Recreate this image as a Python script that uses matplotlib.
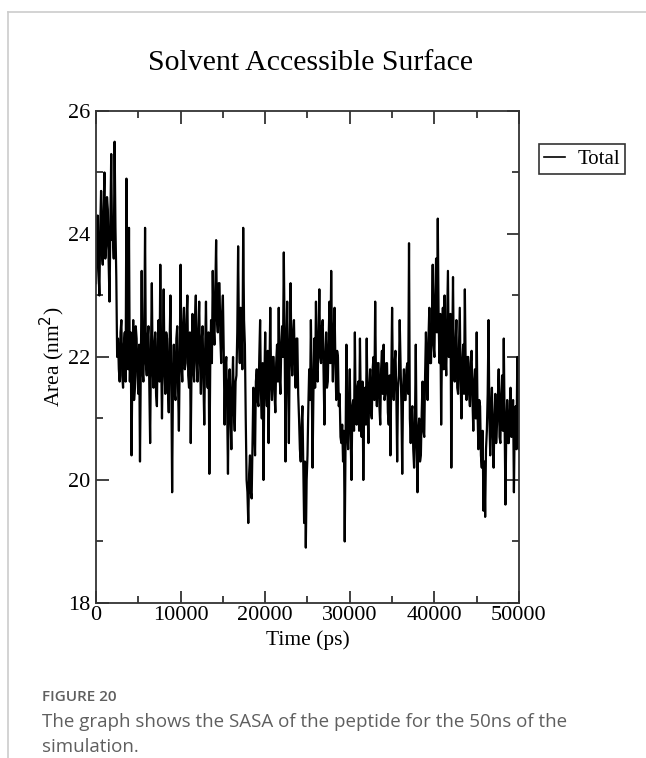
import numpy as np
import matplotlib.pyplot as plt
from matplotlib.lines import Line2D

# SASA (nm^2), one value every 100 ps, 0..50000 ps
area = [
    23.2, 24.0, 24.3, 23.4, 23.0, 24.1, 24.7, 23.7, 23.5, 24.4, 25.0, 23.6, 23.8, 24.6, 24.4, 23.5, 22.9, 24.2, 25.3, 23.9,
    24.0, 23.6, 25.5, 24.1, 23.3, 22.0, 22.3, 21.8, 21.6, 22.4, 22.6, 21.7, 21.5, 22.2, 22.4, 21.6, 24.9, 22.3, 21.8, 24.1,
    21.6, 22.4, 20.4, 21.8, 22.6, 21.3, 21.5, 22.5, 22.3, 21.7, 21.4, 22.2, 20.3, 21.9, 23.4, 21.8, 21.6, 22.3, 24.1, 21.9,
    21.7, 22.3, 22.5, 21.6, 20.6, 22.1, 23.2, 21.8, 21.5, 22.2, 22.4, 21.4, 21.2, 22.3, 22.6, 21.6, 23.5, 22.0, 21.0, 22.1,
    23.1, 21.8, 21.4, 22.4, 22.3, 21.5, 21.1, 22.2, 23.0, 21.7, 19.8, 21.6, 22.2, 21.4, 21.3, 22.3, 22.5, 21.5, 20.8, 22.0,
    23.5, 21.9, 21.6, 22.5, 22.8, 21.8, 21.9, 22.6, 23.0, 21.7, 21.5, 22.4, 20.6, 21.9, 22.7, 21.8, 21.6, 22.6, 23.0, 21.9,
    21.6, 22.4, 22.9, 21.9, 21.4, 22.3, 22.5, 21.6, 20.9, 22.1, 22.9, 21.8, 21.5, 22.4, 20.1, 21.8, 22.6, 21.9, 23.4, 22.5,
    22.2, 23.1, 23.9, 22.6, 22.4, 23.2, 23.2, 22.3, 21.9, 22.7, 23.0, 22.1, 20.9, 21.8, 22.0, 21.2, 20.1, 21.6, 21.8, 21.0,
    20.5, 21.5, 22.0, 21.1, 20.8, 21.6, 21.7, 22.4, 23.8, 22.3, 21.9, 22.8, 22.6, 21.8, 24.1, 22.6, 22.2, 21.0, 20.0, 19.8,
    19.3, 20.1, 20.4, 19.8, 19.7, 20.6, 21.5, 20.9, 20.4, 21.6, 21.8, 21.3, 21.2, 22.0, 22.6, 21.4, 21.0, 21.9, 20.0, 21.6,
    22.4, 21.5, 21.2, 22.1, 20.6, 21.7, 22.8, 21.6, 21.3, 22.0, 22.0, 21.4, 21.1, 21.9, 22.2, 21.6, 22.8, 21.7, 21.4, 22.2,
    22.5, 22.0, 23.7, 22.3, 20.3, 22.0, 22.9, 21.8, 20.6, 22.1, 23.2, 22.0, 21.7, 22.4, 22.6, 21.8, 21.5, 22.3, 22.3, 21.4,
    21.0, 20.5, 20.3, 20.9, 21.2, 20.2, 19.3, 20.3, 18.9, 20.0, 20.4, 21.2, 21.8, 21.3, 22.6, 21.6, 20.2, 21.4, 22.3, 21.5,
    22.9, 21.8, 21.6, 22.4, 23.1, 22.0, 21.9, 22.5, 22.6, 21.7, 20.9, 22.0, 22.4, 21.5, 21.6, 22.3, 22.9, 21.9, 23.4, 22.2,
    21.6, 22.4, 22.8, 21.9, 21.3, 22.1, 22.0, 21.2, 21.4, 20.7, 20.6, 20.9, 20.3, 20.8, 19.0, 20.6, 22.2, 20.8, 20.5, 21.3,
    21.8, 20.7, 20.0, 21.2, 21.3, 20.8, 22.4, 21.0, 20.9, 21.5, 21.6, 20.8, 22.3, 21.2, 20.7, 21.6, 20.0, 21.3, 21.5, 20.9,
    22.3, 21.2, 20.6, 21.5, 21.8, 21.1, 21.0, 21.8, 22.0, 21.3, 22.9, 21.6, 21.2, 21.9, 21.9, 21.2, 20.9, 21.8, 22.1, 21.4,
    22.2, 21.3, 21.4, 21.9, 21.9, 21.1, 20.9, 21.7, 20.4, 21.6, 22.8, 21.5, 21.3, 21.9, 22.1, 21.4, 20.3, 21.5, 21.7, 22.6,
    21.9, 21.2, 20.1, 21.5, 21.8, 21.3, 21.3, 21.8, 21.9, 21.4, 23.85, 21.0, 20.6, 21.1, 21.2, 20.5, 20.2, 20.9, 22.2, 20.6,
    19.8, 20.8, 21.0, 20.3, 20.4, 21.1, 21.6, 20.8, 20.7, 21.7, 22.4, 21.8, 21.3, 22.3, 22.8, 21.9, 21.9, 22.6, 23.5, 22.2,
    22.0, 23.0, 23.6, 22.4, 24.25, 22.6, 21.9, 22.7, 20.9, 22.2, 22.8, 21.8, 23.0, 22.1, 21.7, 22.6, 23.4, 22.0, 22.1, 22.7,
    20.2, 22.0, 23.3, 21.8, 21.6, 22.2, 22.6, 21.5, 21.4, 22.1, 22.8, 21.6, 21.0, 21.9, 22.2, 21.4, 23.1, 21.8, 21.3, 22.0,
    22.0, 21.4, 21.2, 21.9, 22.1, 21.3, 20.8, 21.6, 21.8, 21.0, 22.4, 21.1, 20.5, 21.3, 21.2, 20.4, 20.2, 20.8, 19.5, 20.3,
    19.4, 20.5, 20.8, 21.4, 22.6, 21.0, 20.4, 21.2, 21.5, 20.7, 20.2, 21.0, 21.4, 20.6, 20.9, 21.3, 21.8, 20.7, 20.6, 21.4,
    21.7, 20.8, 22.3, 21.0, 19.6, 20.9, 21.3, 20.6, 20.6, 21.2, 21.5, 20.7, 20.8, 21.3, 19.8, 21.0, 21.2, 20.5, 22.0, 20.7,
    20.5,
]
time = np.linspace(0, 50000, len(area))

x_ticks = [0, 10000, 20000, 30000, 40000, 50000]
y_ticks = [18, 20, 22, 24, 26]

serif = ['Liberation Serif', 'DejaVu Serif']
sans = ['Open Sans', 'DejaVu Sans']

fig = plt.figure(figsize=(6.46, 7.58), dpi=100)
ax = fig.add_axes([0.1486, 0.2045, 0.6548, 0.6491])

ax.plot(time, area, color='black', lw=1.6, label='Total')

ax.set_xlim(0, 50000)
ax.set_ylim(18, 26)
ax.set_xticks(x_ticks)
ax.set_yticks(y_ticks)
ax.set_xticks(np.arange(5000, 50000, 10000), minor=True)
ax.set_yticks([19, 21, 23, 25], minor=True)
ax.tick_params(which='both', direction='in', top=True, right=True, width=1.3, color='#333333')
ax.tick_params(which='major', length=9)
ax.tick_params(which='minor', length=5)
ax.tick_params(axis='x', pad=2)
ax.tick_params(axis='y', pad=4)
for lab in ax.get_xticklabels() + ax.get_yticklabels():
    lab.set_family(serif)
    lab.set_fontsize(16)
for sp in ax.spines.values():
    sp.set_linewidth(1.3)
    sp.set_color('#333333')

ax.set_xlabel('Time (ps)', family=serif, fontsize=15.5, labelpad=4)
ax.set_ylabel('Area (nm$^2$)', family=serif, fontsize=15.5, labelpad=1)
fig.text(0.48, 0.917, 'Solvent Accessible Surface', family=serif, fontsize=21.5, ha='center', va='center')

leg = ax.legend(loc='upper left', bbox_to_anchor=(1.047, 0.932), prop={'family': serif, 'size': 15},
                frameon=True, fancybox=False, handlelength=1.0, handletextpad=0.6,
                borderpad=0.25, borderaxespad=0)
leg.get_frame().set_edgecolor('black')
leg.get_frame().set_linewidth(1.2)
leg.get_lines()[0].set_linewidth(1.2)

# caption under the chart
fig.text(0.065, 0.080, 'FIGURE 20', family=sans, fontsize=11, fontweight='semibold',
         color='#5f5f5f', va='center')
fig.text(0.065, 0.047, 'The graph shows the SASA of the peptide for the 50ns of the',
         family=sans, fontsize=13.5, color='#5f5f5f', va='center')
fig.text(0.065, 0.015, 'simulation.', family=sans, fontsize=13.5, color='#5f5f5f', va='center')

# thin frame of the page
fig.add_artist(Line2D([0.0124, 1.0], [0.984, 0.984], color='#cccccc', lw=1.2))
fig.add_artist(Line2D([0.0124, 0.0124], [0.0, 0.984], color='#cccccc', lw=1.2))

fig.savefig('out.png', dpi=100)
